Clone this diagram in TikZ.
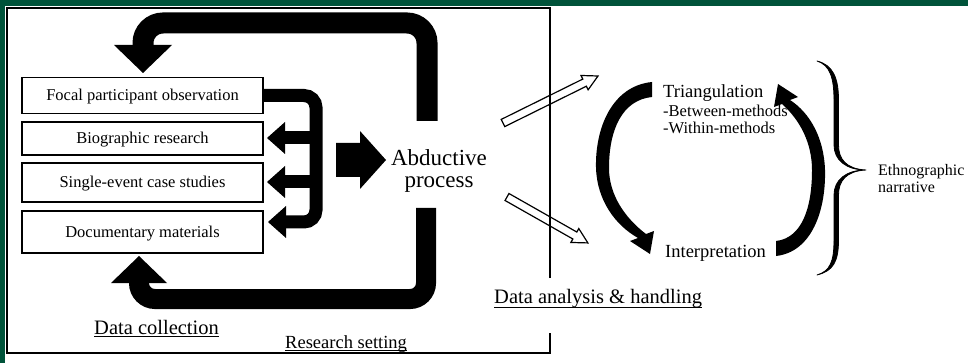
\documentclass[tikz,border=0pt]{standalone}
\usepackage{fontspec}
\setmainfont{Liberation Serif}
\usetikzlibrary{calc}
\definecolor{framegreen}{RGB}{0,83,58}
\newcommand\myul[2]{\setbox0\hbox{#2}\rlap{\rule[-#1]{\wd0}{1.1pt}}\box0}
\begin{document}
\begin{tikzpicture}[x=1pt,y=-1pt,
  lbox/.style={draw, line width=1.5pt, minimum width=241pt, inner sep=0pt,
    font=\fontsize{16.5}{18}\selectfont, text height=11pt, text depth=0pt},
  frameline/.style={line width=1.6pt},
  bigbar/.style={line width=21pt, rounded corners=20pt},
  botbar/.style={line width=20pt, rounded corners=16pt},
  branch/.style={line width=13pt, rounded corners=12pt},
  hollow/.style={line width=1.2pt, line join=miter},
  lab/.style={inner sep=0pt, anchor=base west},
  bracestyle/.style={line width=0.8pt, line join=round}
]
\useasboundingbox (0,0) rectangle (968,363);
\fill[white] (0,0) rectangle (968,363);
\fill[framegreen] (0,0) rectangle (968,6);
\fill[framegreen] (0,0) rectangle (5,363);

% research setting frame
\draw[frameline] (550,278) -- (550,8) -- (7,8) -- (7,353) -- (550,353) -- (550,333);

% data collection boxes
\node[lbox, minimum height=36pt] (focal)  at (142.5,95.5) {Focal participant observation};
\node[lbox, minimum height=33pt] (bio)    at (142.5,138.5) {Biographic research};
\node[lbox, minimum height=39pt] (single) at (142.5,182.5) {Single-event case studies};
\node[lbox, minimum height=42pt] (doc)    at (142.5,232) {Documentary materials};

% branch connector
\coordinate (bvTop) at (316,95.5);
\coordinate (bvBot) at (316,222);
\coordinate (tipB) at (267,138);
\coordinate (tipS) at (267,182);
\coordinate (tipD) at (268,222);
\draw[branch] (focal.east) -- (bvTop) -- (bvBot) -- ($(tipD)+(18,0)$);
\draw[line width=13pt] (bvTop |- tipB) -- ($(tipB)+(18,0)$);
\draw[line width=13pt] (bvTop |- tipS) -- ($(tipS)+(18,0)$);
\foreach \t in {tipB,tipS,tipD}{
  \fill (\t) -- ($(\t)+(18,-16)$) -- ($(\t)+(18,16)$) -- cycle;
}

% abductive process
\node[inner sep=0pt, anchor=base, font=\fontsize{23}{22}\selectfont] (abd) at (439,166) {Abductive};
\node[inner sep=0pt, anchor=base, font=\fontsize{23}{22}\selectfont] (abdb) at (439,188) {process};

% block arrow into abductive process
\fill (336,143) -- (360,143) -- (360,131) -- (386,160) -- (360,189) -- (360,177) -- (336,177) -- cycle;

% top feedback arrow
\coordinate (topTip) at (143,73);
\draw[bigbar] (427,121) -- (427,23) -- (143,23) -- (143,46);
\fill (topTip) -- ($(topTip)+(-29,-28)$) -- ($(topTip)+(29,-28)$) -- cycle;

% bottom feedback arrow
\coordinate (botTip) at (139,256);
\draw[botbar] (426,208) -- (426,299) -- (139,299) -- (139,282);
\fill (botTip) -- ($(botTip)+(-28,27)$) -- ($(botTip)+(28,27)$) -- cycle;

% labels
\node[lab, font=\fontsize{20.5}{22}\selectfont] (dcol) at (94,334) {\myul{3pt}{Data collection}};
\node[lab, font=\fontsize{18.5}{20}\selectfont] (rset) at (285,348) {\myul{3pt}{Research setting}};
\node[lab, font=\fontsize{20.5}{22}\selectfont] (dana) at (494,303) {\myul{5pt}{Data analysis \& handling}};

% hollow arrows
\coordinate (upTail) at (503,123);
\coordinate (dnTail) at (507,197);
\begin{scope}[shift={(upTail)}, rotate=26.32]
\draw[hollow] (0,4) -- (91,4) -- (91,8) -- (106,0) -- (91,-8) -- (91,-4) -- (0,-4) -- cycle;
\end{scope}
\begin{scope}[shift={(dnTail)}, rotate=-29.59]
\draw[hollow] (0,4) -- (78,4) -- (78,8) -- (93,0) -- (78,-8) -- (78,-4) -- (0,-4) -- cycle;
\end{scope}

% right texts
\node[lab, font=\fontsize{18.5}{20}\selectfont] (tri) at (663,98) {Triangulation};
\node[lab, font=\fontsize{16.5}{18}\selectfont] (btw) at (663,117) {-Between-methods};
\node[lab, font=\fontsize{16.5}{18}\selectfont] (wth) at (663,134) {-Within-methods};
\node[lab, font=\fontsize{18.5}{20}\selectfont] (int) at (665,257) {Interpretation};
\node[lab, font=\fontsize{16}{17}\selectfont] (eth) at (878,176) {Ethnographic};
\node[lab, font=\fontsize{16}{17}\selectfont] (nar) at (878,193) {narrative};

% left curved arrow (triangulation -> interpretation)
\fill (652,82) .. controls (612,86) and (595,128) .. (596,168)
  .. controls (597,200) and (615,225) .. (638,238)
  -- (630,241) -- (650,254) -- (654,231) -- (646,234)
  .. controls (625,218) and (609,195) .. (609,168)
  .. controls (609,130) and (622,100) .. (652,97) -- cycle;

% right curved arrow (interpretation -> triangulation)
\fill (776,256) .. controls (812,252) and (826,210) .. (825,170)
  .. controls (824,138) and (810,113) .. (790,100)
  -- (798,97) -- (778,84) -- (774,107) -- (782,104)
  .. controls (800,120) and (812,143) .. (812,170)
  .. controls (812,208) and (802,238) .. (776,241) -- cycle;

% brace (filled, thick arms tapering to the ends and the cusp)
\filldraw[bracestyle] (817,61) .. controls (830,65) and (834,78) .. (834,100) -- (834,145)
  .. controls (834,160) and (846,170) .. (866,170)
  .. controls (846,170) and (834,180) .. (834,195) -- (834,240)
  .. controls (834,262) and (830,271) .. (817,275)
  .. controls (833,271) and (838.5,262) .. (838.5,240) -- (838.5,195)
  .. controls (838.5,181) and (846,171) .. (866,170)
  .. controls (846,169) and (838.5,159) .. (838.5,145) -- (838.5,100)
  .. controls (838.5,78) and (833,65) .. (817,61) -- cycle;
\end{tikzpicture}
\end{document}
